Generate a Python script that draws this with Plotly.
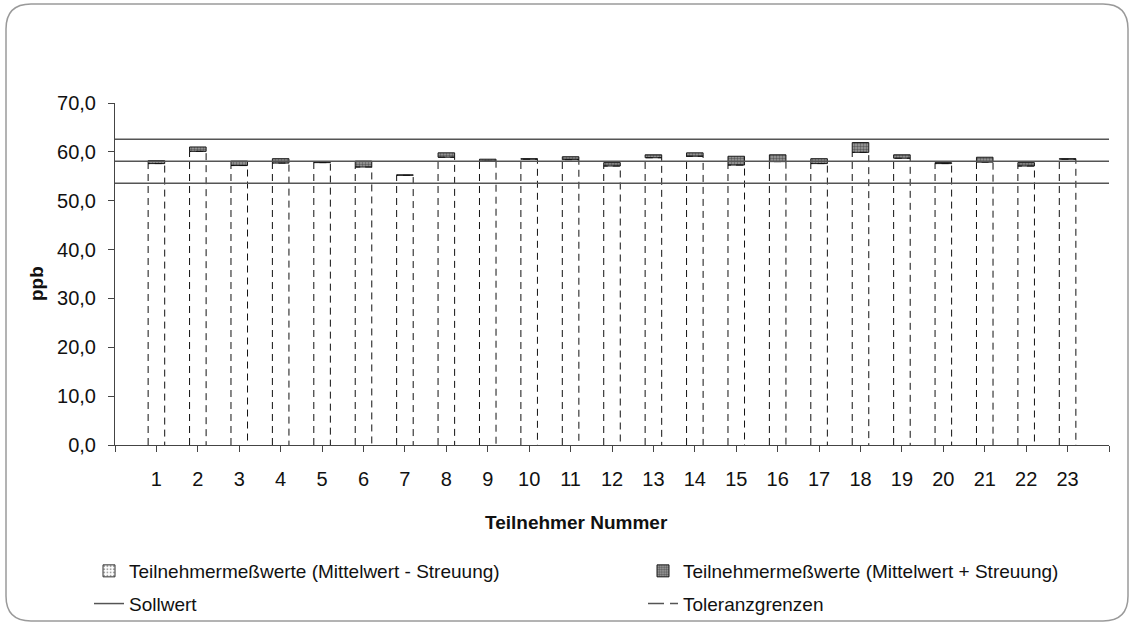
import plotly.graph_objects as go

# ---------------- data ----------------
participants = list(range(1, 24))
# Teilnehmermesswerte: Mittelwert - Streuung / Mittelwert + Streuung (ppb)
lower_vals = [57.6, 60.1, 57.2, 57.7, 57.8, 56.9, 55.2, 58.9, 58.1, 58.5, 58.4, 57.1,
              58.8, 59.1, 57.3, 58.0, 57.6, 59.9, 58.7, 57.6, 57.9, 57.1, 58.5]
upper_vals = [58.2, 61.0, 58.1, 58.6, 57.9, 58.1, 55.3, 59.8, 58.5, 58.6, 59.0, 57.8,
              59.4, 59.8, 59.1, 59.4, 58.6, 61.9, 59.4, 57.8, 58.9, 57.8, 58.6]
sollwert = 58.1
tol_lower = 53.6
tol_upper = 62.6
y_ticks = [0, 10, 20, 30, 40, 50, 60, 70]
x_tick_vals = list(range(0, 25))
x_tick_labels = [""] + [str(p) for p in participants] + [""]

name_minus = "Teilnehmermeßwerte (Mittelwert - Streuung)"
name_plus = "Teilnehmermeßwerte (Mittelwert + Streuung)"
name_soll = "Sollwert"
name_tol = "Toleranzgrenzen"

# ---------------- layout constants ----------------
W, H = 1134, 626
L, R, T, B = 115, 25, 103, 181
PW, PH = W - L - R, H - T - B
FONT = "Liberation Sans, Arial, sans-serif"
BAR_W = 0.4
X_RANGE = [0, 24]


def fx(px):
    return (px - L) / PW


def fy(py):
    return (H - B - py) / PH


band_heights = [u - l for u, l in zip(upper_vals, lower_vals)]

minus_legend_marker = dict(color="white",
                           pattern=dict(shape=".", fgcolor="#444444", bgcolor="white",
                                        size=4, solidity=0.3),
                           line=dict(color="#333333", width=1))
plus_marker = dict(color="#8a8a8a",
                   pattern=dict(shape=".", fgcolor="#1a1a1a", bgcolor="#a0a0a0",
                                size=3, solidity=0.5),
                   line=dict(color="#1a1a1a", width=1))

fig = go.Figure()

# lower bar (0 .. mean - s)
fig.add_trace(go.Bar(x=participants, y=lower_vals, width=BAR_W,
                     marker=dict(color="white", line=dict(width=0)),
                     showlegend=False, hoverinfo="skip"))
# band (mean - s .. mean + s)
fig.add_trace(go.Bar(x=participants, y=band_heights, base=lower_vals, width=BAR_W,
                     marker=plus_marker, name=name_plus, legend="legend2",
                     legendgroup="plus", legendrank=1))

# dashed outlines of the lower bars
ox, oy = [], []
for p, lv in zip(participants, lower_vals):
    ox += [p - BAR_W / 2, p - BAR_W / 2, p + BAR_W / 2, p + BAR_W / 2, None]
    oy += [0, lv, lv, 0, None]
fig.add_trace(go.Scatter(x=ox, y=oy, mode="lines",
                         line=dict(color="#111111", width=1, dash="7px,5px"),
                         showlegend=False, hoverinfo="skip"))

# reference lines
fig.add_trace(go.Scatter(x=X_RANGE, y=[sollwert, sollwert], mode="lines",
                         line=dict(color="#555555", width=1.5),
                         name=name_soll, legend="legend", legendgroup="soll",
                         legendrank=2))
for tv in (tol_lower, tol_upper):
    fig.add_trace(go.Scatter(x=X_RANGE, y=[tv, tv], mode="lines",
                             line=dict(color="#555555", width=1.5),
                             showlegend=False, hoverinfo="skip"))

# legend-only entries
fig.add_trace(go.Bar(x=[None], y=[None], name=name_minus, legend="legend",
                     legendgroup="minus", legendrank=1, marker=minus_legend_marker))
fig.add_trace(go.Scatter(x=[None], y=[None], mode="lines", name=name_tol,
                         legend="legend2", legendgroup="tol", legendrank=2,
                         line=dict(color="#555555", width=1.5, dash="16px,6px")))

# rounded border around the chart
x0, y0, x1, y1, r = 6, 4, 1128, 621, 25
path = (f"M {fx(x0 + r)},{fy(y0)} L {fx(x1 - r)},{fy(y0)} "
        f"Q {fx(x1)},{fy(y0)} {fx(x1)},{fy(y0 + r)} "
        f"L {fx(x1)},{fy(y1 - r)} Q {fx(x1)},{fy(y1)} {fx(x1 - r)},{fy(y1)} "
        f"L {fx(x0 + r)},{fy(y1)} Q {fx(x0)},{fy(y1)} {fx(x0)},{fy(y1 - r)} "
        f"L {fx(x0)},{fy(y0 + r)} Q {fx(x0)},{fy(y0)} {fx(x0 + r)},{fy(y0)} Z")

legend_common = dict(orientation="v", xanchor="left", yanchor="top",
                     font=dict(family=FONT, size=19, color="#111111"),
                     bgcolor="rgba(0,0,0,0)", itemclick=False, tracegroupgap=5,
                     traceorder="grouped")

fig.update_layout(
    width=W, height=H, autosize=False,
    margin=dict(l=L, r=R, t=T, b=B, autoexpand=False),
    paper_bgcolor="white", plot_bgcolor="white",
    barmode="overlay", separators=",.",
    font=dict(family=FONT, size=19, color="#111111"),
    showlegend=True,
    legend=dict(x=fx(89), y=fy(552), **legend_common),
    legend2=dict(x=fx(643), y=fy(552), **legend_common),
    shapes=[dict(type="path", path=path, xref="paper", yref="paper",
                 line=dict(color="#9a9a9a", width=1.5), layer="below")],
    annotations=[
        dict(text="<b>Teilnehmer Nummer</b>", x=fx(576), y=fy(522), xref="paper",
             yref="paper", xanchor="center", yanchor="middle", showarrow=False,
             font=dict(family=FONT, size=19)),
        dict(text="<b>ppb</b>", x=fx(36), y=fy(284), xref="paper", yref="paper",
             xanchor="center", yanchor="middle", showarrow=False, textangle=-90,
             font=dict(family=FONT, size=19)),
    ],
)

fig.update_xaxes(range=X_RANGE, tickmode="array", tickvals=x_tick_vals,
                 ticktext=x_tick_labels, ticks="outside", ticklen=6,
                 tickcolor="#444444", showline=True, linecolor="#444444", linewidth=1,
                 showgrid=False, zeroline=False, ticklabelstandoff=10,
                 tickfont=dict(family=FONT, size=20, color="#111111"))
fig.update_yaxes(range=[0, 70], tickmode="array", tickvals=y_ticks, tickformat=".1f",
                 ticks="outside", ticklen=6, tickcolor="#444444", showline=True,
                 linecolor="#444444", linewidth=1, showgrid=False, zeroline=False,
                 ticklabelstandoff=8,
                 tickfont=dict(family=FONT, size=20, color="#111111"))

fig.write_html("out.html")
